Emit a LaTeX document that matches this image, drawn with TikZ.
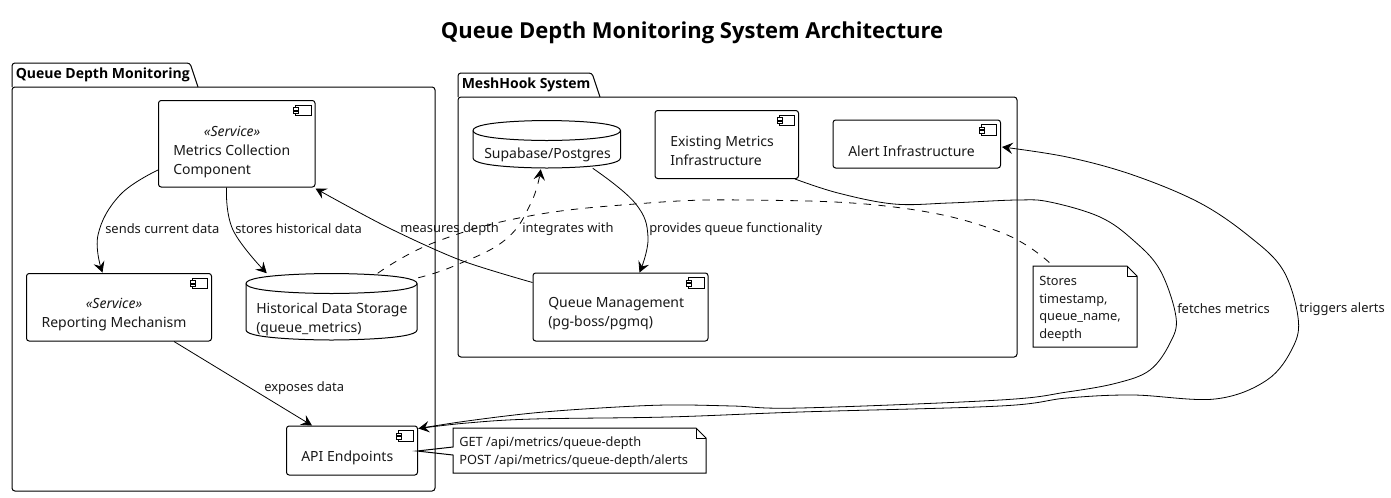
\documentclass[tikz,border=0pt]{standalone}
\usepackage{fontspec}
\setmainfont{Noto Sans}[BoldFont={Open Sans Bold}]
\usetikzlibrary{arrows.meta,calc}
\newcommand{\boxnode}[6][]{% name x1 y1 x2 y2
  \node[compbox,minimum width={(#5-#3)*0.75pt},minimum height={(#6-#4)*0.75pt},#1] (#2) at ({(#3+#5)/2},{(#4+#6)/2}) {};
  \draw[thick line] ($(#2.north east)+(-20,5)$) rectangle ($(#2.north east)+(-4.5,15.5)$);
  \draw[thick line,fill=white] ($(#2.north east)+(-22,7.5)$) rectangle ($(#2.north east)+(-17,10)$);
  \draw[thick line,fill=white] ($(#2.north east)+(-22,11)$) rectangle ($(#2.north east)+(-17,13.5)$);
}
\newcommand{\dbnode}[5]{% name x1 y1 x2 y2
  \node[minimum width={(#4-#2)*0.75pt},minimum height={(#5-#3)*0.75pt},inner sep=0pt] (#1) at ({(#2+#4)/2},{(#3+#5)/2}) {};
  \draw[box line] (#2,#3+10) .. controls (#2,#3) and ({(#2+#4)/2},#3) .. ({(#2+#4)/2},#3)
    .. controls ({(#2+#4)/2},#3) and (#4,#3) .. (#4,#3+10)
    -- (#4,#5-10) .. controls (#4,#5) and ({(#2+#4)/2},#5) .. ({(#2+#4)/2},#5)
    .. controls ({(#2+#4)/2},#5) and (#2,#5) .. (#2,#5-10) -- cycle;
  \draw[box line] (#2,#3+10) .. controls (#2,#3+20) and ({(#2+#4)/2},#3+20) .. ({(#2+#4)/2},#3+20)
    .. controls ({(#2+#4)/2},#3+20) and (#4,#3+20) .. (#4,#3+10);
}
\newcommand{\pkg}[8]{% name x1 ytab ybody x2 y2 tabright title
  \draw[box line,rounded corners=2.2pt] (#2,#4) rectangle (#5,#6);
  \draw[box line] (#2,#4) [rounded corners=2.2pt] -- (#2,#3) -- (#7-8,#3) [sharp corners] -- (#7,#4);
  \node[pkgtext,anchor=west] (#1) at (#2+3.5,{(#3+#4)/2}) {#8};
}
\tikzset{
  x=0.75pt,y=-0.75pt,
  box line/.style={draw=black,line width=0.75pt},
  thick line/.style={draw=black,line width=0.6pt},
  compbox/.style={draw=black,line width=0.75pt,rounded corners=2pt,inner sep=0pt},
  lbl/.style={font=\fontsize{9.7}{14}\selectfont,inner sep=0pt,anchor=west,text=black!90},
  txt/.style={font=\fontsize{10.5}{14.25}\selectfont,inner sep=0pt,anchor=west,align=left,text=black!90},
  notetxt/.style={font=\fontsize{9.6}{13.2}\selectfont,inner sep=0pt,anchor=west,align=left,text=black!90},
  pkgtext/.style={font=\fontsize{10.5}{14}\selectfont\bfseries,inner sep=0pt,text=black},
  conn/.style={draw=black,line width=0.6pt,-{Stealth[length=8pt,width=8.5pt,inset=3pt]}},
  dashconn/.style={draw=black,line width=0.6pt,dash pattern=on 5.5pt off 5.5pt},
}
\begin{document}
\begin{tikzpicture}
\useasboundingbox (0,0) rectangle (1391,497);
\node[font=\fontsize{16.5}{20}\selectfont\bfseries,inner sep=0pt] (title) at (692,33) {Queue Depth Monitoring System Architecture};

\pkg{pkgq}{12}{63}{87}{435}{491}{198}{Queue Depth Monitoring}
\pkg{pkgm}{458}{73}{97}{1017}{357}{600}{MeshHook System}

\boxnode{metrics}{158.5}{100.5}{315}{187}
\boxnode{report}{26.5}{273.5}{211.5}{341}
\boxnode{api}{286.5}{426}{417.5}{475}
\boxnode{existing}{655}{110.5}{798.5}{178.5}
\boxnode{alert}{833}{120}{1000.5}{168}
\boxnode{queue}{533}{273}{708}{341}
\dbnode{hist}{246}{273.5}{417}{340}
\dbnode{supa}{473}{120.5}{620.5}{168}

\node[txt] (metricsT) at (173,152.5) {\hspace*{23pt}\textit{«Service»}\\Metrics Collection\\Component};
\node[txt,anchor=center,align=center] (reportT) at (114,315) {\textit{«Service»}\\Reporting Mechanism};
\node[txt] (apiT) at (301,458) {API Endpoints};
\node[txt] (existingT) at (670,151) {Existing Metrics\\Infrastructure};
\node[txt] (alertT) at (848,151) {Alert Infrastructure};
\node[txt] (queueT) at (548,314) {Queue Management\\(pg-boss/pgmq)};
\node[txt] (histT) at (256,319) {Historical Data Storage\\(queue\_metrics)};
\node[txt] (supaT) at (484,155) {Supabase/Postgres};

% notes
\coordinate (n2a) at (417,451);
\draw[box line] (453,428) -- (453,447) -- (n2a) -- (453,455) -- (453,473) -- (706,473) -- (706,438) -- (696,428) -- cycle;
\draw[box line] (696,428) -- (696,438) -- (706,438);
\node[notetxt] (noteB) at (459,452) {GET /api/metrics/queue-depth\\POST /api/metrics/queue-depth/alerts};
\draw[box line] (1033,266) -- (1033,347) -- (1137,347) -- (1137,276) -- (1127,266) -- cycle;
\draw[box line] (1127,266) -- (1127,276) -- (1137,276);
\node[notetxt] (noteA) at (1039,309) {Stores\\timestamp,\\queue\_name,\\deepth};
\coordinate (noteAtop) at (1053,266);

% connectors
\coordinate (e1) at ($(metrics.north west)+(0,70)$);
\draw[conn] plot[smooth,tension=0.7] coordinates {(e1) (120,195) (98,235) ($(report.north west)+(76.5,-0.5)$)};
\coordinate (e2) at ($(metrics.south west)+(68.5,0)$);
\draw[conn] plot[smooth,tension=0.7] coordinates {(e2) (233,230) ($(hist.north west)+(21,0)$)};
\coordinate (e0) at ($(report.south west)+(148,0)$);
\draw[conn] (e0) -- ($(api.north west)+(26,0)$);
\coordinate (e3) at ($(queue.north west)+(0,10)$);
\draw[conn] plot[smooth,tension=0.5] coordinates {(e3) (460,260) (387,227) ($(metrics.south east)+(0,1)$)};
\coordinate (e4) at ($(supa.south west)+(120,0)$);
\draw[conn] plot[smooth,tension=0.7] coordinates {(e4) (635,203) (648,237) ($(queue.north west)+(107,0)$)};
\coordinate (e5) at ($(hist.north east)+(1,4.5)$);
\draw[dashconn,-{Stealth[length=8pt,width=8.5pt,inset=3pt]}] plot[smooth,tension=0.7] coordinates {(e5) (454,266) (505,240) (531,203) ($(supa.south west)+(68,1)$)};
\coordinate (e6) at ($(hist.north west)+(132,0)$);
\draw[dashconn] plot[smooth,tension=0.7] coordinates {(e6) (433,243) (524,217) (635,204) (746,200) (894,207) (1000,232) (noteAtop)};
\coordinate (e7) at ($(existing.south east)+(-4,0)$);
\coordinate (apiNE) at ($(api.north east)+(0.5,3)$);
\draw[conn] plot[smooth,tension=0.6] coordinates {(e7) (838,193) (894,204) (949,203) (1017,200) (1050,202) (1100,217) (1133,240) (1160,270) (1176,317) (1170,343) (1150,370) (1117,383) (1067,392) (1000,400) (800,408) (733,406) (667,405) (600,408) (533,413) (467,421) (apiNE)};
\coordinate (alertE) at ($(alert.east)+(1,3)$);
\draw[conn] plot[smooth,tension=0.6] coordinates {(apiNE) (467,423) (533,419) (667,417) (800,412) (1000,406) (1067,398) (1133,395) (1215,399) (1267,380) (1293,347) (1298,317) (1283,270) (1250,237) (1200,203) (1133,175) (1067,157) (alertE)};

% labels
\node[lbl] (l1) at (105,229) {sends current data};
\node[lbl] (l2) at (235,229) {stores historical data};
\node[lbl] (l3) at (400,229) {measures depth};
\node[lbl] (l4) at (522,229.5) {integrates with};
\node[lbl] (l5) at (649,229.5) {provides queue functionality};
\node[lbl] (l6) at (264,388) {exposes data};
\node[lbl] (l7) at (1177,309) {fetches metrics};
\node[lbl] (l8) at (1299,309) {triggers alerts};
\end{tikzpicture}
\end{document}
